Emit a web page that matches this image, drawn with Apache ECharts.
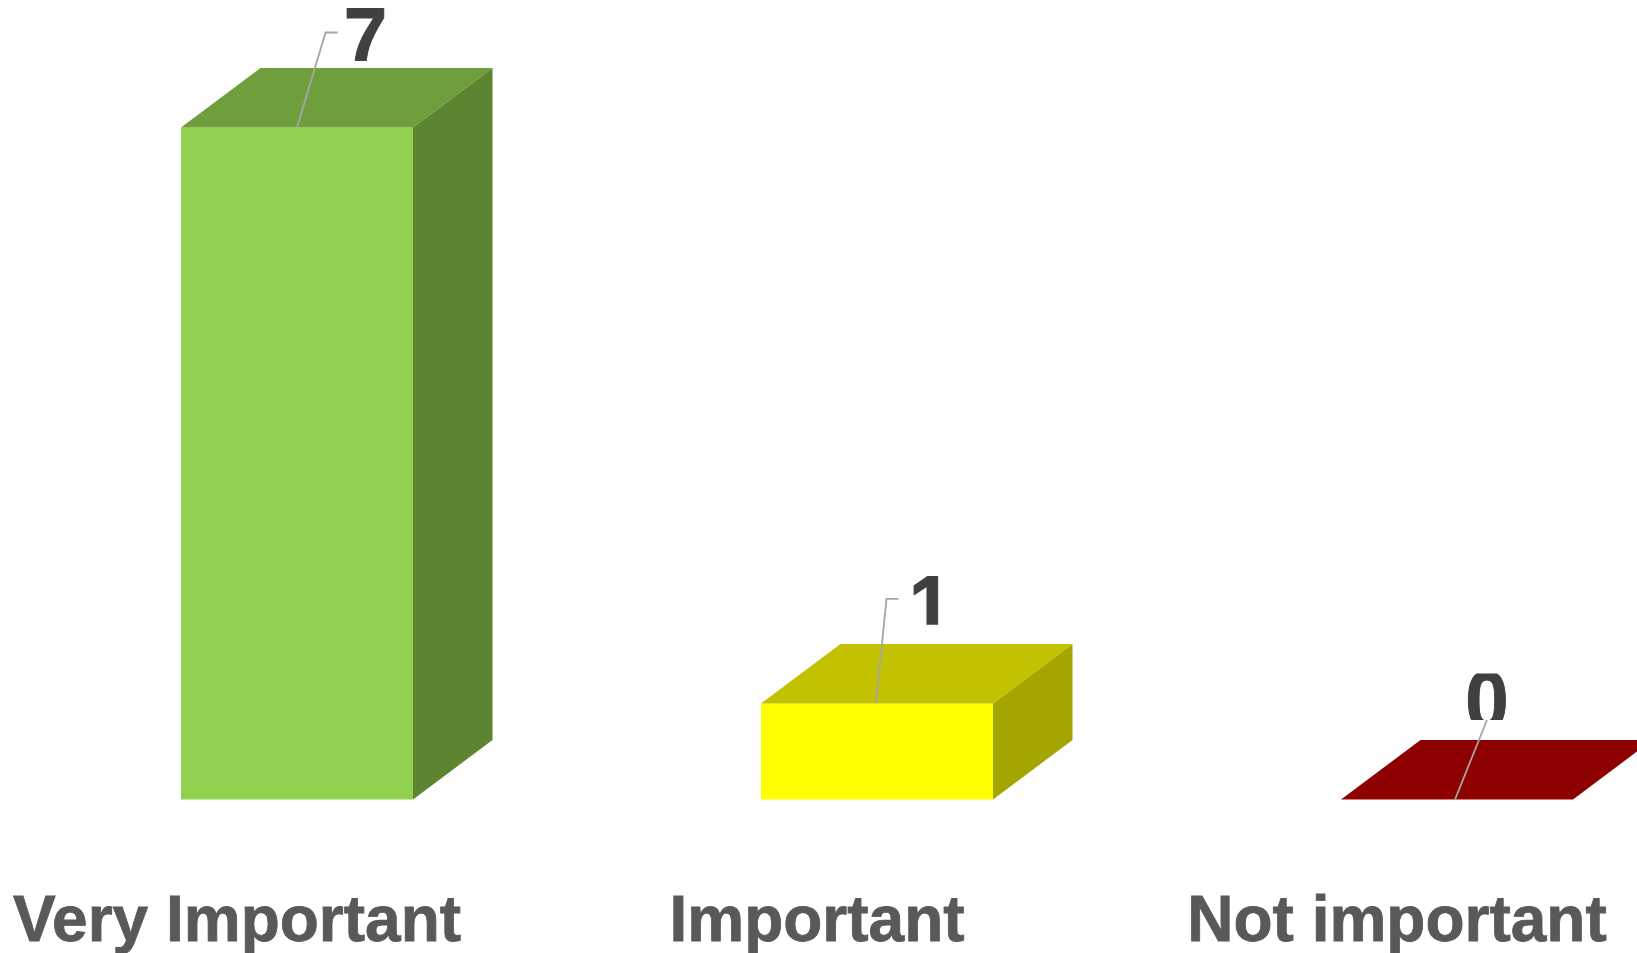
<!DOCTYPE html>
<html>
<head>
<meta charset="utf-8">
<style>html,body{margin:0;padding:0;background:#fff}#chart{width:1637px;height:953px}</style>
<script src="https://cdn.jsdelivr.net/npm/echarts@6/dist/echarts.min.js"></script>
</head>
<body>
<div id="chart"></div>
<script>
const categories = ['Very Important', 'Important', 'Not important'];
const values = [7, 1, 0];

// Drawing styles per bar
const frontColors = ['#92D050', '#FFFF00', '#C00000'];
const topColors = ['#6F9E3D', '#C2C200', '#8F0000'];
const sideColors = ['#5D8431', '#A5A500', '#7D0000'];
// Pixel offsets of the 3D look and of the leader/label, relative to the front top centre
const barWidth = 232, depthX = 79.5, depthY = 59.5, shiftX = 60;
const leaders = [
  [[0, 0], [28.6, -95], [40.6, -95]],
  [[-1, 0], [9.5, -104.6], [21.5, -104.6]],
  [[-2, 0], [30, -79.5], [30, -79.5]]
];
const labelBoxes = [
  { dx: 68.5, base: -42.5, top: -120, bottom: -66.5 },
  { dx: 53.5, base: -51, top: -131, bottom: -78.8 },
  { dx: 30, base: -51.5, top: -126, bottom: -79.5 }
];
const labelScaleX = 0.93;

function renderBar(params, api) {
  const i = params.dataIndex;
  const v = api.value(1);
  const base = api.coord([i, 0]);
  const top = api.coord([i, v]);
  const cx = base[0] + shiftX;
  const l = cx - barWidth / 2, r = cx + barWidth / 2;
  const yb = base[1], yt = top[1];
  const children = [];
  if (yb - yt > 0.5) {
    children.push({ type: 'polygon', shape: { points: [[l, yt], [r, yt], [r, yb], [l, yb]] }, style: { fill: frontColors[i] } });
    children.push({ type: 'polygon', shape: { points: [[r, yt], [r + depthX, yt - depthY], [r + depthX, yb - depthY], [r, yb]] }, style: { fill: sideColors[i] } });
  }
  children.push({ type: 'polygon', shape: { points: [[l, yt], [l + depthX, yt - depthY], [r + depthX, yt - depthY], [r, yt]] }, style: { fill: topColors[i] } });
  children.push({
    type: 'polyline',
    shape: { points: leaders[i].map(p => [cx + p[0], yt + p[1]]) },
    style: { stroke: '#A6A6A6', lineWidth: 1.8, fill: null }
  });
  const b = labelBoxes[i];
  children.push({
    type: 'text',
    x: cx + b.dx, y: yt + b.base, scaleX: labelScaleX,
    style: {
      text: String(v), x: 0, y: 0,
      fill: '#404040', font: 'bold 84px "Liberation Sans", Arial, sans-serif',
      textAlign: 'center', textVerticalAlign: 'bottom',
      stroke: '#404040', lineWidth: 1
    },
    clipPath: { type: 'rect', shape: { x: -60, y: b.top - b.base, width: 120, height: b.bottom - b.top } }
  });
  return { type: 'group', children };
}

const chart = echarts.init(document.getElementById('chart'));
chart.setOption({
  backgroundColor: '#ffffff',
  animation: false,
  grid: { left: -53, top: 127.5, width: 1740, height: 672, outerBoundsMode: 'none' },
  xAxis: {
    type: 'category',
    data: categories,
    axisLine: { show: false },
    axisTick: { show: false },
    axisLabel: {
      interval: 0, hideOverlap: false, margin: 92,
      color: '#595959',
      fontFamily: '"Liberation Sans", Arial, sans-serif',
      fontWeight: 'bold', fontSize: 64,
      textBorderColor: '#595959', textBorderWidth: 0.8
    }
  },
  yAxis: { type: 'value', min: 0, max: 7, show: false, splitLine: { show: false } },
  series: [{
    type: 'custom',
    clip: false,
    renderItem: renderBar,
    data: categories.map((c, i) => [i, values[i]]),
    encode: { x: 0, y: 1 }
  }]
});
</script>
</body>
</html>
